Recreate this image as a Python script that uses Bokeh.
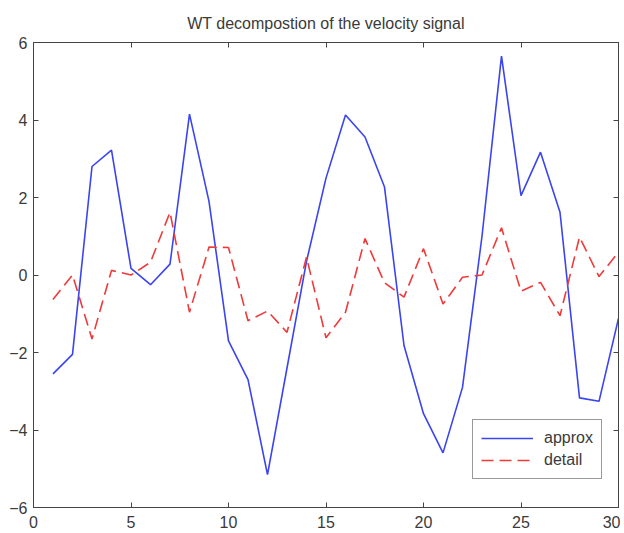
from bokeh.plotting import figure
from bokeh.models import LinearAxis, Range1d, Legend, LegendItem, FixedTicker
from bokeh.embed import file_html
from bokeh.resources import INLINE

x_vals = list(range(1, 31))
approx = [-2.55, -2.05, 2.8, 3.22, 0.17, -0.25, 0.28, 4.15, 1.9, -1.7,
          -2.7, -5.15, -2.4, 0.35, 2.5, 4.13, 3.56, 2.27, -1.82, -3.58,
          -4.59, -2.9, 1.0, 5.65, 2.05, 3.17, 1.62, -3.17, -3.26, -1.12]
detail = [-0.63, 0.0, -1.65, 0.12, 0.0, 0.33, 1.62, -0.96, 0.72, 0.71,
          -1.18, -0.93, -1.48, 0.46, -1.62, -0.96, 0.94, -0.2, -0.57, 0.68,
          -0.75, -0.06, 0.0, 1.22, -0.42, -0.19, -1.05, 0.98, -0.04, 0.59]
x_ticks = [0, 5, 10, 15, 20, 25, 30]
y_ticks = [-6, -4, -2, 0, 2, 4, 6]
title_text = "WT decompostion of the velocity signal"
series_names = ["approx", "detail"]

FONT = "Liberation Sans"
TXT = "#3a3a3a"

p = figure(width=620, height=530, output_backend="svg", toolbar_location=None,
           x_range=Range1d(0, 30), y_range=Range1d(-6, 6),
           min_border_left=33, min_border_right=2, min_border_top=42, min_border_bottom=23)
p.title.text = title_text
p.title.align = "center"
p.title.text_font = FONT
p.title.text_font_size = "16px"
p.title.text_font_style = "normal"
p.title.text_color = TXT
p.title.offset = 0
p.title.standoff = 21

p.xgrid.visible = False
p.ygrid.visible = False
p.outline_line_color = "#444444"
p.outline_line_width = 1

def style_axis(ax, ticks, labels=True):
    ax.ticker = FixedTicker(ticks=ticks)
    ax.major_tick_in = 5
    ax.major_tick_out = 0
    ax.minor_tick_in = 0
    ax.minor_tick_out = 0
    ax.axis_line_color = "#444444"
    ax.major_tick_line_color = "#444444"
    ax.major_label_text_font = FONT
    ax.major_label_text_font_size = "16px"
    ax.major_label_text_color = TXT
    if not labels:
        ax.major_label_overrides = {t: "" for t in ticks}
        ax.major_label_standoff = 0

style_axis(p.xaxis[0], x_ticks)
style_axis(p.yaxis[0], y_ticks)
p.xaxis[0].major_label_standoff = 8
p.yaxis[0].major_label_standoff = 6

top_ax = LinearAxis()
style_axis(top_ax, x_ticks, False)
p.add_layout(top_ax, "above")
right_ax = LinearAxis()
style_axis(right_ax, y_ticks, False)
p.add_layout(right_ax, "right")

r1 = p.line(x_vals, approx, line_color="#3a44f0", line_width=1.6)
r2 = p.line(x_vals, detail, line_color="#f03a3a", line_width=1.6, line_dash="12 6")

legend = Legend(items=[LegendItem(label=series_names[0], renderers=[r1]),
                       LegendItem(label=series_names[1], renderers=[r2])],
                location=(439, 28))
legend.label_text_font = FONT
legend.label_text_font_size = "16px"
legend.label_text_color = TXT
legend.glyph_width = 52
legend.glyph_height = 20
legend.label_height = 20
legend.border_line_color = "#333333"
legend.border_line_width = 1.5
legend.padding = 8
legend.spacing = 2
legend.margin = 0
legend.label_standoff = 11
p.add_layout(legend, "center")

open("out.html", "w").write(file_html(p, INLINE))
